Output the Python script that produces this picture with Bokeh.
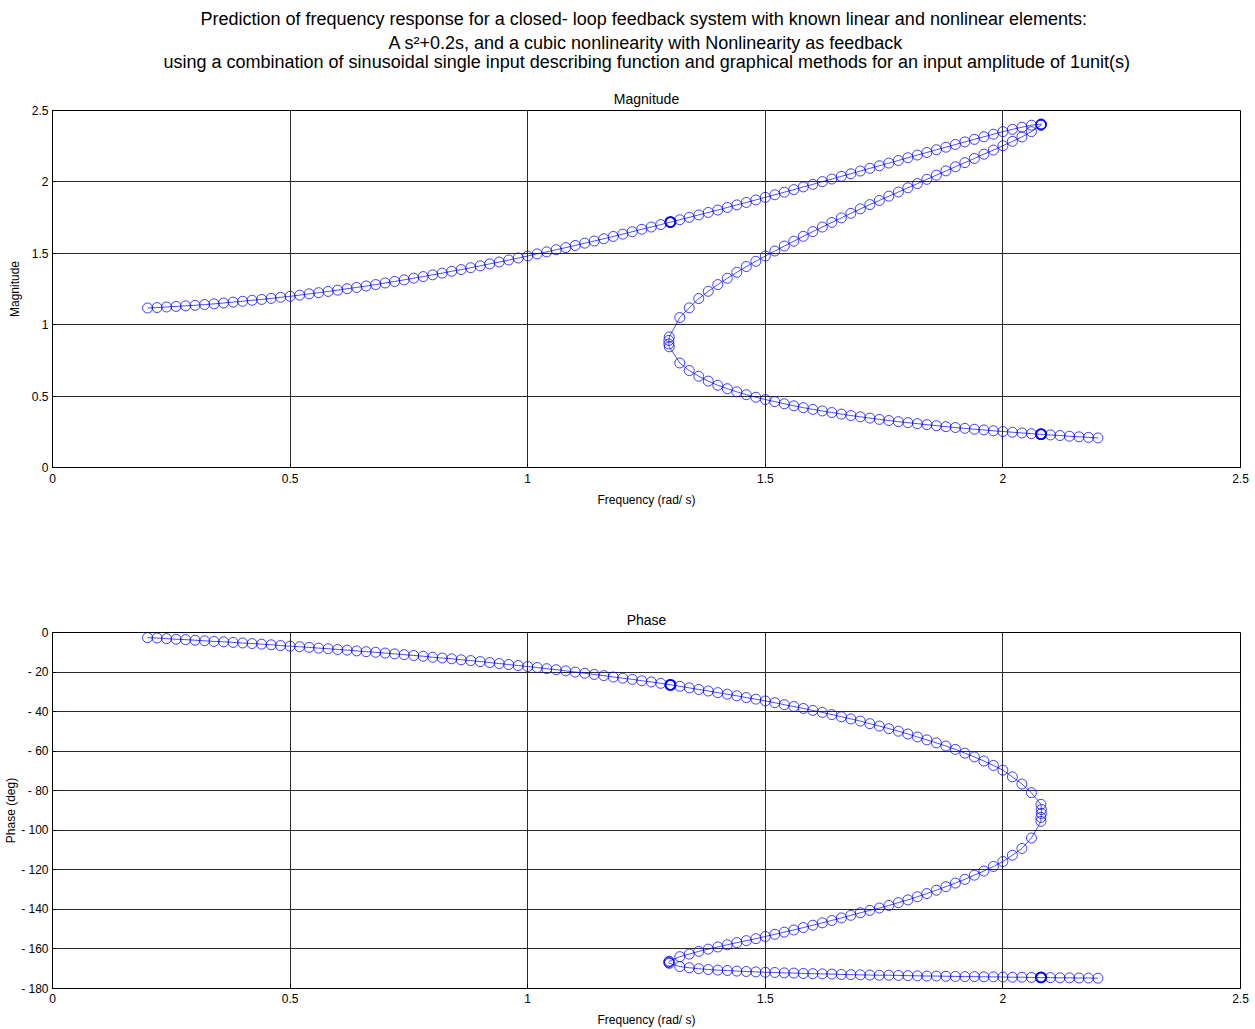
from bokeh.plotting import figure
from bokeh.layouts import column
from bokeh.models import FixedTicker, CustomJSTickFormatter, Range1d
from bokeh.core.properties import value
from bokeh.embed import file_html
from bokeh.resources import INLINE

# ---------------- data ----------------
title_lines = [
    "Prediction of frequency response for a closed- loop feedback system with known linear and nonlinear elements:",
    "A s\u00b2+0.2s, and a cubic nonlinearity with Nonlinearity as feedback",
    "using a combination of sinusoidal single input describing function and graphical methods for an input amplitude of 1unit(s)",
]

x_ticks = [0, 0.5, 1, 1.5, 2, 2.5]
mag_ticks = [0, 0.5, 1, 1.5, 2, 2.5]
phase_ticks = [0, -20, -40, -60, -80, -100, -120, -140, -160, -180]

# upper (high-amplitude) branch, increasing frequency
upper_freq = [0.20, 0.22, 0.24, 0.26, 0.28, 0.30, 0.32, 0.34, 0.36, 0.38,
              0.40, 0.42, 0.44, 0.46, 0.48, 0.50, 0.52, 0.54, 0.56, 0.58,
              0.60, 0.62, 0.64, 0.66, 0.68, 0.70, 0.72, 0.74, 0.76, 0.78,
              0.80, 0.82, 0.84, 0.86, 0.88, 0.90, 0.92, 0.94, 0.96, 0.98,
              1.00, 1.02, 1.04, 1.06, 1.08, 1.10, 1.12, 1.14, 1.16, 1.18,
              1.20, 1.22, 1.24, 1.26, 1.28, 1.30, 1.32, 1.34, 1.36, 1.38,
              1.40, 1.42, 1.44, 1.46, 1.48, 1.50, 1.52, 1.54, 1.56, 1.58,
              1.60, 1.62, 1.64, 1.66, 1.68, 1.70, 1.72, 1.74, 1.76, 1.78,
              1.80, 1.82, 1.84, 1.86, 1.88, 1.90, 1.92, 1.94, 1.96, 1.98,
              2.00, 2.02, 2.04, 2.06, 2.08]
upper_mag = [1.117, 1.120, 1.124, 1.128, 1.132, 1.136, 1.141, 1.146, 1.152, 1.158,
             1.164, 1.171, 1.177, 1.184, 1.192, 1.199, 1.207, 1.216, 1.224, 1.233,
             1.242, 1.252, 1.261, 1.271, 1.281, 1.292, 1.303, 1.314, 1.326, 1.337,
             1.349, 1.361, 1.374, 1.386, 1.399, 1.412, 1.426, 1.439, 1.453, 1.467,
             1.481, 1.496, 1.510, 1.525, 1.540, 1.555, 1.571, 1.586, 1.602, 1.618,
             1.634, 1.651, 1.668, 1.684, 1.701, 1.718, 1.735, 1.752, 1.769, 1.786,
             1.803, 1.821, 1.839, 1.856, 1.874, 1.892, 1.910, 1.928, 1.946, 1.965,
             1.983, 2.002, 2.020, 2.039, 2.057, 2.076, 2.095, 2.113, 2.132, 2.150,
             2.169, 2.188, 2.206, 2.225, 2.243, 2.262, 2.280, 2.298, 2.316, 2.334,
             2.352, 2.368, 2.383, 2.397, 2.405]
upper_phase = [-2.6, -2.8, -3.1, -3.4, -3.6, -3.9, -4.2, -4.5, -4.7, -5.0,
               -5.3, -5.6, -5.9, -6.2, -6.6, -6.9, -7.2, -7.5, -7.9, -8.2,
               -8.6, -8.9, -9.3, -9.7, -10.0, -10.4, -10.8, -11.2, -11.6, -12.0,
               -12.5, -12.9, -13.3, -13.8, -14.2, -14.7, -15.2, -15.7, -16.2, -16.7,
               -17.2, -17.7, -18.3, -18.8, -19.4, -20.0, -20.6, -21.2, -21.8, -22.5,
               -23.1, -23.7, -24.4, -25.0, -25.7, -26.4, -27.2, -28.0, -28.8, -29.6,
               -30.4, -31.2, -32.0, -32.9, -33.7, -34.6, -35.5, -36.5, -37.4, -38.4,
               -39.4, -40.4, -41.5, -42.6, -43.7, -44.8, -46.1, -47.3, -48.6, -49.9,
               -51.3, -52.8, -54.3, -55.8, -57.4, -59.1, -61.0, -62.9, -65.0, -67.2,
               -69.6, -73.0, -76.6, -81.0, -86.9]

# cluster of points at the resonance tip
tip_freq = [2.081, 2.081, 2.080, 2.080]
tip_mag = [2.404, 2.402, 2.399, 2.396]
tip_phase = [-89.5, -91.5, -93.5, -95.5]

# middle (unstable) branch, decreasing frequency
middle_freq = [2.06, 2.04, 2.02, 2.00, 1.98, 1.96, 1.94, 1.92, 1.90, 1.88,
               1.86, 1.84, 1.82, 1.80, 1.78, 1.76, 1.74, 1.72, 1.70, 1.68,
               1.66, 1.64, 1.62, 1.60, 1.58, 1.56, 1.54, 1.52, 1.50, 1.48,
               1.46, 1.44, 1.42, 1.40, 1.38, 1.36, 1.34, 1.32]
middle_mag = [2.352, 2.315, 2.284, 2.253, 2.223, 2.194, 2.164, 2.135, 2.106, 2.077,
              2.047, 2.018, 1.988, 1.959, 1.929, 1.900, 1.870, 1.841, 1.811, 1.780,
              1.748, 1.716, 1.684, 1.652, 1.619, 1.585, 1.551, 1.516, 1.481, 1.444,
              1.407, 1.367, 1.325, 1.281, 1.234, 1.183, 1.118, 1.050]
middle_phase = [-103.9, -109.2, -112.6, -115.8, -118.3, -120.6, -122.7, -124.8, -126.7, -128.5,
                -130.3, -132.0, -133.6, -135.2, -136.6, -138.0, -139.3, -140.5, -141.7, -143.0,
                -144.3, -145.6, -146.8, -148.0, -149.2, -150.4, -151.5, -152.6, -153.7, -154.8,
                -155.8, -156.8, -157.9, -159.0, -160.1, -161.2, -162.6, -163.9]

# cluster of points at the lower fold
fold_freq = [1.298, 1.297, 1.297, 1.298]
fold_mag = [0.915, 0.890, 0.865, 0.845]
fold_phase = [-166.2, -166.5, -166.9, -167.3]

# lower (low-amplitude) branch, increasing frequency
lower_freq = [1.32, 1.34, 1.36, 1.38, 1.40, 1.42, 1.44, 1.46, 1.48, 1.50,
              1.52, 1.54, 1.56, 1.58, 1.60, 1.62, 1.64, 1.66, 1.68, 1.70,
              1.72, 1.74, 1.76, 1.78, 1.80, 1.82, 1.84, 1.86, 1.88, 1.90,
              1.92, 1.94, 1.96, 1.98, 2.00, 2.02, 2.04, 2.06, 2.08, 2.10,
              2.12, 2.14, 2.16, 2.18, 2.20]
lower_mag = [0.732, 0.679, 0.639, 0.605, 0.576, 0.552, 0.530, 0.510, 0.492, 0.476,
             0.461, 0.446, 0.432, 0.419, 0.407, 0.396, 0.385, 0.374, 0.364, 0.355,
             0.346, 0.337, 0.329, 0.321, 0.314, 0.307, 0.300, 0.293, 0.286, 0.280,
             0.274, 0.268, 0.263, 0.257, 0.252, 0.247, 0.242, 0.237, 0.232, 0.228,
             0.224, 0.219, 0.215, 0.211, 0.207]
lower_phase = [-168.9, -169.5, -170.0, -170.4, -170.7, -170.9, -171.2, -171.4, -171.6, -171.8,
               -171.9, -172.1, -172.2, -172.4, -172.5, -172.6, -172.7, -172.9, -173.0, -173.1,
               -173.2, -173.3, -173.3, -173.4, -173.5, -173.6, -173.7, -173.7, -173.8, -173.9,
               -174.0, -174.0, -174.1, -174.1, -174.2, -174.3, -174.3, -174.4, -174.5, -174.5,
               -174.6, -174.6, -174.7, -174.7, -174.8]

# jump points (drawn several times -> darker circles)
jump_freq = [1.30, 1.30, 1.301, 2.08, 2.08, 2.081]
jump_mag = [1.718, 1.720, 1.719, 0.232, 0.234, 0.233]
jump_phase = [-26.4, -26.6, -26.5, -174.5, -174.3, -174.4]

# ------------------------------------------------------------
freq = upper_freq + tip_freq + middle_freq + fold_freq + lower_freq
mag = upper_mag + tip_mag + middle_mag + fold_mag + lower_mag
phase = upper_phase + tip_phase + middle_phase + fold_phase + lower_phase

FONT = "Liberation Sans"
BLUE = "#0000ff"
W = 1250
FRAME_L, FRAME_R = 52, 1240  # the column aligns every child's frame to these pixels

# ---- header with the three-line main title (x in page pixels) ----
HEAD_H = 85
ph = figure(width=W, height=HEAD_H, x_range=Range1d(FRAME_L, FRAME_R), y_range=Range1d(HEAD_H, 0),
            x_axis_type=None, y_axis_type=None, output_backend="svg", toolbar_location=None,
            min_border_left=0, min_border_right=0, min_border_top=0, min_border_bottom=0)
ph.title = None
ph.outline_line_color = None
ph.grid.visible = False
ph.text(x=[200, 388, 163], y=[18, 42, 61], text=title_lines, text_align="left",
        text_baseline="middle", text_font=value(FONT), text_font_size="18px",
        text_color="black")


def style(p, yticks, ycode, ylabel, ylabel_standoff, title_standoff,
          xtick_standoff, xlabel_standoff):
    p.background_fill_color = "white"
    p.border_fill_color = "white"
    p.outline_line_color = "black"
    p.outline_line_width = 1
    p.outline_line_alpha = 1
    p.xaxis.ticker = FixedTicker(ticks=x_ticks)
    p.yaxis.ticker = FixedTicker(ticks=yticks)
    p.xaxis.formatter = CustomJSTickFormatter(code="return String(tick);")
    p.yaxis.formatter = CustomJSTickFormatter(code=ycode)
    p.xaxis.axis_label = "Frequency (rad/ s)"
    p.yaxis.axis_label = ylabel
    p.xaxis.axis_label_standoff = xlabel_standoff
    p.yaxis.axis_label_standoff = ylabel_standoff
    p.xaxis.major_label_standoff = xtick_standoff
    p.yaxis.major_label_standoff = 4
    for ax in (p.xaxis[0], p.yaxis[0]):
        ax.axis_line_color = "black"
        ax.major_tick_in = 4
        ax.major_tick_out = 0
        ax.major_tick_line_color = "black"
        ax.minor_tick_line_color = None
        ax.major_label_text_font = FONT
        ax.major_label_text_font_size = "12px"
        ax.major_label_text_color = "black"
        ax.axis_label_text_font = FONT
        ax.axis_label_text_font_size = "12px"
        ax.axis_label_text_font_style = "normal"
        ax.axis_label_text_color = "black"
    for g in (p.xgrid[0], p.ygrid[0]):
        g.grid_line_color = "#2a2a2a"
        g.grid_line_width = 1
        g.grid_line_alpha = 1
    p.title.text_font = FONT
    p.title.text_font_size = "14px"
    p.title.text_font_style = "normal"
    p.title.align = "center"
    p.title.text_color = "black"
    p.title.standoff = title_standoff


def draw(p, xs, ys, jx, jy):
    p.line(xs, ys, line_color=BLUE, line_width=0.7)
    p.scatter(xs, ys, marker="circle", size=10, fill_color=None,
              line_color=BLUE, line_width=1, line_alpha=0.75)
    p.scatter(jx, jy, marker="circle", size=10, fill_color=None,
              line_color=BLUE, line_width=1.5, line_alpha=0.9)


# ---- magnitude ----
p1 = figure(width=W, height=460, x_range=Range1d(0, 2.5), y_range=Range1d(0, 2.5),
            output_backend="svg", toolbar_location=None, title="Magnitude",
            min_border_left=52, min_border_right=10, min_border_top=25, min_border_bottom=78)
style(p1, mag_ticks, "return String(tick);", "Magnitude", 7, 7, 6, 7)
draw(p1, freq, mag, jump_freq, jump_mag)

# ---- phase ----
p2 = figure(width=W, height=484, x_range=Range1d(0, 2.5), y_range=Range1d(-180, 0),
            output_backend="svg", toolbar_location=None, title="Phase",
            min_border_left=52, min_border_right=10, min_border_top=87, min_border_bottom=41)
style(p2, phase_ticks, "return tick < 0 ? '- ' + String(-tick) : String(tick);",
      "Phase (deg)", 0, 10, 5, 7)
draw(p2, freq, phase, jump_freq, jump_phase)

layout = column(ph, p1, p2, spacing=0)
open("out.html", "w").write(file_html(layout, INLINE))
